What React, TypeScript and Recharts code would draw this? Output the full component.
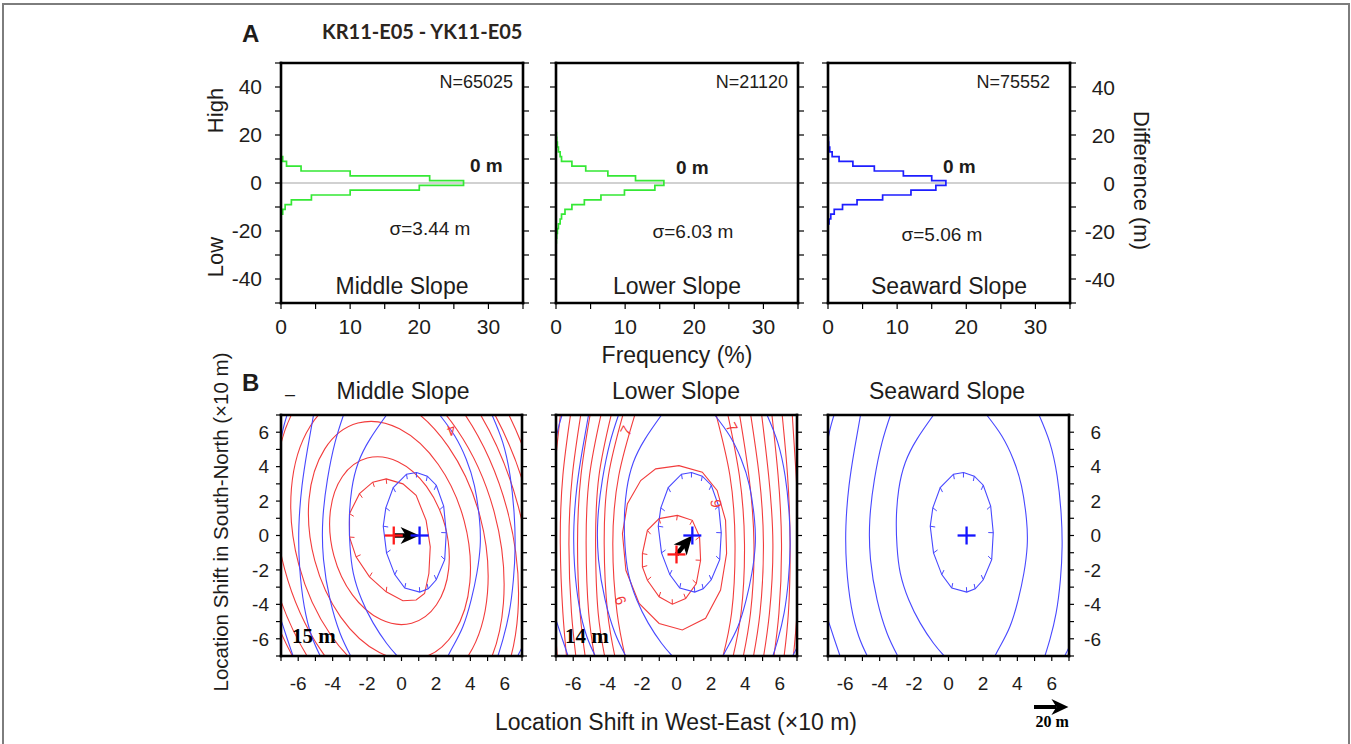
import React from 'react';
import { ComposedChart, Line, Scatter, XAxis, YAxis, ReferenceLine } from 'recharts';

type Pt = [number, number];

const SANS = '"Liberation Sans", Arial, Helvetica, sans-serif';
const SERIF = '"Liberation Serif", "Times New Roman", serif';
const INK = '#1e1c1a';
const RED = '#f23c3c';
const BLUE = '#4848ff';

/* ---------- A: depth-difference histograms, 2 m bins ---------- */
const binCenters = [-24, -22, -20, -18, -16, -14, -12, -10, -8, -6, -4, -2, 0, 2, 4, 6, 8, 10, 12, 14, 16, 18, 20];
const BIN_HALF = 1;
const freqMiddle = [0, 0, 0, 0, 0, 0, 0.25, 0.6, 1.5, 4.4, 10.0, 20.0, 26.4, 21.5, 10.0, 2.9, 0.8, 0.25, 0, 0, 0, 0, 0];
const freqLower = [0.05, 0.1, 0.2, 0.35, 0.6, 0.8, 1.3, 2.3, 4.1, 6.5, 9.9, 14.3, 15.6, 11.5, 7.5, 4.3, 2.3, 0.8, 0.6, 0.35, 0.2, 0.1, 0.05];
const freqSeaward = [0, 0, 0, 0, 0.15, 0.4, 0.9, 2.1, 4.2, 7.9, 12.0, 15.6, 17.05, 15.0, 10.9, 6.7, 3.6, 1.6, 0.6, 0.25, 0.1, 0.05, 0];
const histSeries = [freqMiddle, freqLower, freqSeaward];
const histColors = ['#35e835', '#35e835', '#1e1eff'];
const slopeNames = ['Middle Slope', 'Lower Slope', 'Seaward Slope'];
const sampleCounts = [65025, 21120, 75552];
const sigmaValues = [3.44, 6.03, 5.06];
const meanOffsets = [0, 0, 0];
const freqTicks = [0, 5, 10, 15, 20, 25, 30, 35];
const diffTicks = [-50, -40, -30, -20, -10, 0, 10, 20, 30, 40, 50];

/* ---------- B: misfit contours vs. location shift (units of 10 m) ---------- */
const shiftTicks = [-7, -6, -5, -4, -3, -2, -1, 0, 1, 2, 3, 4, 5, 6, 7];

// reference (blue) misfit surface, identical in every panel
const blueInner: Pt[] = [
  [0.87, 3.66], [1.5, 3.45], [2.02, 2.92], [2.45, 1.71], [2.6, 0.16], [2.51, -1.4], [2.02, -2.57], [1.55, -3.1],
  [1.06, -3.29], [0.19, -3.05], [-0.39, -2.27], [-0.87, -1.01], [-1.06, 0.54], [-0.91, 1.61], [-0.48, 2.78], [0.29, 3.56],
];
const blueOpen: Pt[][] = [
  [[-0.87, 7], [-1.83, 5.6], [-2.51, 4.24], [-2.89, 2.68], [-3.03, 0.93], [-2.99, -0.62], [-2.8, -2.18], [-2.31, -3.73], [-1.64, -5.09], [-0.87, -6.26], [-0.25, -7]],
  [[2.22, 7], [3.09, 5.79], [3.76, 4.43], [4.24, 2.88], [4.53, 0.93], [4.57, -0.62], [4.38, -2.18], [4.05, -3.73], [3.57, -5.29], [2.99, -6.45], [2.7, -7]],
  [[-3.37, 7], [-3.86, 5.41], [-4.3, 3.27], [-4.57, 0.93], [-4.53, -1.4], [-4.15, -3.73], [-3.57, -5.68], [-2.95, -7]],
  [[5.26, 7], [5.88, 5.41], [6.31, 3.46], [6.54, 1.32], [6.6, -0.62], [6.5, -2.57], [6.25, -4.51], [5.9, -6.0], [5.6, -7]],
  [[-5.11, 7], [-5.46, 5.02], [-5.78, 2.88], [-5.96, 0.54], [-5.92, -1.79], [-5.65, -4.12], [-5.21, -5.87], [-4.72, -7]],
  [[-6.65, 7], [-6.85, 6.3], [-7, 5.6]],
  [[-7, -4.9], [-6.65, -5.97], [-6.3, -7]],
  [[6.75, -7], [7, -6.5]],
];

// middle slope (red)
const redMiddleInner: Pt[] = [
  [-0.89, 3.29], [0.08, 3.0], [0.85, 2.33], [1.43, 0.88], [1.67, -0.66], [1.59, -2.21], [1.34, -3.37], [0.85, -3.75],
  [0.08, -3.79], [-0.89, -3.27], [-1.86, -2.4], [-2.64, -1.24], [-3.02, -0.09], [-3.02, 1.27], [-2.44, 2.43], [-1.67, 3.1],
];
const redMiddleRings: Pt[][] = [
  [[-2.05, 4.72], [-0.18, 4.5], [1.55, 3.0], [2.68, 0.61], [2.9, -2.03], [2.16, -4.2], [0.65, -5.32], [-1.22, -5.1], [-2.95, -3.6], [-4.08, -1.21], [-4.3, 1.43], [-3.56, 3.6]],
  [[-2.62, 6.85], [-0.09, 6.5], [2.27, 4.33], [3.84, 0.92], [4.19, -2.82], [3.23, -5.88], [1.22, -7.45], [-1.31, -7.1], [-3.67, -4.93], [-5.24, -1.52], [-5.59, 2.22], [-4.63, 5.28]],
  [[-3.08, 8.59], [-0.01, 8.13], [2.88, 5.42], [4.81, 1.18], [5.26, -3.47], [4.12, -7.26], [1.68, -9.19], [-1.39, -8.73], [-4.28, -6.02], [-6.21, -1.78], [-6.66, 2.87], [-5.52, 6.66]],
  [[-3.52, 10.23], [0.04, 9.67], [3.41, 6.45], [5.68, 1.41], [6.23, -4.09], [4.93, -8.56], [2.12, -10.83], [-1.44, -10.27], [-4.81, -7.05], [-7.08, -2.01], [-7.63, 3.49], [-6.33, 7.96]],
  [[-3.94, 11.78], [0.07, 11.12], [3.87, 7.4], [6.45, 1.62], [7.11, -4.68], [5.68, -9.8], [2.54, -12.38], [-1.47, -11.72], [-5.27, -8.0], [-7.85, -2.22], [-8.51, 4.08], [-7.08, 9.2]],
  [[-4.33, 13.22], [0.07, 12.46], [4.26, 8.28], [7.13, 1.8], [7.89, -5.25], [6.35, -10.96], [2.93, -13.82], [-1.47, -13.06], [-5.66, -8.88], [-8.53, -2.4], [-9.29, 4.65], [-7.75, 10.36]],
  [[-4.72, 14.67], [0.07, 13.81], [4.65, 9.16], [7.8, 1.98], [8.67, -5.81], [7.03, -12.13], [3.32, -15.27], [-1.47, -14.41], [-6.05, -9.76], [-9.2, -2.58], [-10.07, 5.21], [-8.43, 11.53]],
  [[-5.1, 16.12], [0.08, 15.15], [5.05, 10.04], [8.48, 2.16], [9.45, -6.38], [7.7, -13.29], [3.7, -16.72], [-1.48, -15.75], [-6.45, -10.64], [-9.88, -2.76], [-10.85, 5.78], [-9.1, 12.69]],
];

// lower slope (red)
const redLowerInner: Pt[] = [
  [0.05, 1.17], [0.92, 0.88], [1.34, -0.08], [1.4, -1.44], [1.15, -2.79], [0.53, -3.66], [-0.24, -3.99],
  [-1.01, -3.56], [-1.69, -2.6], [-1.98, -1.83], [-1.98, -1.05], [-1.69, 0.3], [-1.01, 0.98],
];
const redLowerRing: Pt[] = [
  [0.14, 4.06], [1.5, 3.68], [2.36, 2.62], [2.85, 0.88], [2.91, -1.04], [2.56, -3.17], [1.69, -4.81], [0.34, -5.49],
  [-1.01, -5.11], [-2.17, -3.95], [-2.94, -2.02], [-3.14, 0.11], [-2.85, 1.85], [-2.08, 3.19], [-1.21, 3.87],
];
const redLowerArcs: Pt[][] = [
  [[-2.3, 7.4], [-3.35, 3.5], [-3.7, -0.5], [-3.45, -4.5], [-2.9, -7.4]],
  [[-3.0, 7.4], [-3.95, 3.5], [-4.2, -0.5], [-4.0, -4.5], [-3.5, -7.4]],
  [[-3.7, 7.4], [-4.5, 3.5], [-4.7, -0.5], [-4.55, -4.5], [-4.1, -7.4]],
  [[-4.3, 7.4], [-5.05, 3.5], [-5.25, -0.5], [-5.1, -4.5], [-4.7, -7.4]],
  [[-4.95, 7.4], [-5.55, 3.5], [-5.75, -0.5], [-5.6, -4.5], [-5.25, -7.4]],
  [[-5.5, 7.4], [-6.05, 3.5], [-6.25, -0.5], [-6.1, -4.5], [-5.8, -7.4]],
  [[-6.1, 7.4], [-6.6, 3.5], [-6.75, -0.5], [-6.6, -4.5], [-6.35, -7.4]],
  [[-6.7, 7.4], [-7.1, 3.5], [-7.25, -0.5], [-7.1, -4.5], [-6.9, -7.4]],
  [[2.2, 7.4], [3.1, 3.5], [3.4, -0.5], [3.2, -4.5], [2.6, -7.4]],
  [[2.9, 7.4], [3.65, 3.5], [3.95, -0.5], [3.75, -4.5], [3.2, -7.4]],
  [[3.6, 7.4], [4.2, 3.5], [4.5, -0.5], [4.3, -4.5], [3.8, -7.4]],
  [[4.25, 7.4], [4.8, 3.5], [5.05, -0.5], [4.85, -4.5], [4.4, -7.4]],
  [[4.9, 7.4], [5.35, 3.5], [5.6, -0.5], [5.4, -4.5], [5.0, -7.4]],
  [[5.5, 7.4], [5.9, 3.5], [6.1, -0.5], [5.95, -4.5], [5.6, -7.4]],
  [[6.1, 7.4], [6.45, 3.5], [6.6, -0.5], [6.5, -4.5], [6.2, -7.4]],
  [[6.7, 7.4], [6.95, 3.5], [7.1, -0.5], [7.0, -4.5], [6.75, -7.4]],
];

// best-fit shifts (misfit minima)
const redMinimum: (Pt | null)[] = [[-0.45, 0], [0, -1.1], null];
const blueMinimum: Pt[] = [[1.05, 0], [0.92, 0], [1.05, 0]];
const contourLabels = [
  [{ x: 2.9, y: 6.1, text: '4', rot: 160 }],
  [
    { x: -2.94, y: 6.1, text: '7', rot: -62 },
    { x: 3.23, y: 6.3, text: '7', rot: 62 },
    { x: 2.27, y: 1.85, text: '6', rot: -95 },
    { x: -3.23, y: -3.76, text: '6', rot: 70 },
  ],
  [],
];
const SCALE_ARROW = 2; // 20 m

/* ---------- layout ---------- */
const PAD = { l: 70, r: 60, t: 30, b: 50 };
const COLS = [281, 556, 828];
const A_TOP = 63, A_W = 242, A_H = 240;
const B_TOP = 415, B_W = 241, B_H = 241;
const AXIS_LINE = { stroke: '#000', strokeWidth: 2.6, strokeLinecap: 'square' as const };
const TICK_LINE = { stroke: '#000', strokeWidth: 1.2 };

function histOutline(freq: number[]) {
  const nz = freq.map((f, i) => (f > 0 ? i : -1)).filter((i) => i >= 0);
  const first = nz[0];
  const last = nz[nz.length - 1];
  const pts = [{ x: 0, y: binCenters[first] - BIN_HALF }];
  for (let i = first; i <= last; i++) {
    pts.push({ x: freq[i], y: binCenters[i] - BIN_HALF });
    pts.push({ x: freq[i], y: binCenters[i] + BIN_HALF });
  }
  pts.push({ x: 0, y: binCenters[last] + BIN_HALF });
  return pts;
}

function toRows(pts: Pt[], tickWhen?: (p: Pt, c: Pt) => boolean) {
  const c: Pt = [pts.reduce((s, p) => s + p[0], 0) / pts.length, pts.reduce((s, p) => s + p[1], 0) / pts.length];
  return pts.map((p) => ({ x: p[0], y: p[1], tick: tickWhen ? tickWhen(p, c) : false, c0x: c[0], c0y: c[1] }));
}

const hachureDot = (color: string) => (props: any) => {
  const { cx, cy, payload, index } = props;
  if (!payload || !payload.tick || cx == null || cy == null) return <g key={`h${index}`} />;
  const dx = payload.c0x - payload.x;
  const dy = payload.c0y - payload.y;
  const n = Math.hypot(dx, dy) || 1;
  return <line key={`h${index}`} x1={cx} y1={cy} x2={cx + (dx / n) * 5} y2={cy - (dy / n) * 5} stroke={color} strokeWidth={1} />;
};

const crossShape = (color: string) => (props: any) => {
  const { cx, cy } = props;
  return (
    <g>
      <line x1={cx - 9} y1={cy} x2={cx + 9} y2={cy} stroke={color} strokeWidth={2.3} />
      <line x1={cx} y1={cy - 9} x2={cx} y2={cy + 9} stroke={color} strokeWidth={2.3} />
    </g>
  );
};

const arrowHead = (props: any) => {
  const { cx, cy, payload } = props;
  const n = Math.hypot(payload.dx, payload.dy) || 1;
  const ux = payload.dx / n;
  const uy = -payload.dy / n;
  const L = 19, Hw = 8.5;
  const px = -uy, py = ux;
  const bx = cx - ux * L, by = cy - uy * L;
  const nx = cx - ux * L * 0.72, ny = cy - uy * L * 0.72;
  return <polygon points={`${cx},${cy} ${bx + px * Hw},${by + py * Hw} ${nx},${ny} ${bx - px * Hw},${by - py * Hw}`} fill="#000" />;
};

const labelShape = (props: any) => {
  const { cx, cy, payload } = props;
  return (
    <text x={cx} y={cy} transform={`rotate(${payload.rot} ${cx} ${cy})`} textAnchor="middle" dominantBaseline="central"
      fontSize={15} fill={RED} fontFamily={SANS}>{payload.text}</text>
  );
};

function rightTick(extra: number, fontSize: number, fmt: (v: number) => string) {
  return (props: any) => (
    <text x={props.x + extra} y={props.y} dy="0.36em" textAnchor="end" fontSize={fontSize} fontFamily={SANS} fill={INK}>
      {fmt(props.payload.value)}
    </text>
  );
}

function HistPanel({ i }: { i: number }) {
  const W = A_W + PAD.l + PAD.r;
  const H = A_H + PAD.t + PAD.b;
  const leftFmt = (v: number) => (i === 0 && v % 20 === 0 && Math.abs(v) < 50 ? String(v) : '');
  const rightFmt = (v: number) => (i === 2 && v % 20 === 0 && Math.abs(v) < 50 ? String(v) : '');
  return (
    <div style={{ position: 'absolute', left: COLS[i] - PAD.l, top: A_TOP - PAD.t }}>
      <ComposedChart width={W} height={H} margin={{ top: 0, right: 0, bottom: 0, left: 0 }}>
        <ReferenceLine y={meanOffsets[i]} stroke="#a3a3a3" strokeWidth={1} />
        <Line data={histOutline(histSeries[i])} dataKey="y" type="linear" stroke={histColors[i]} strokeWidth={1.7}
          dot={false} activeDot={false} isAnimationActive={false} />
        <XAxis type="number" dataKey="x" domain={[0, 35]} ticks={freqTicks} interval={0} allowDataOverflow height={PAD.b}
          axisLine={AXIS_LINE} tickLine={TICK_LINE} tickSize={6} tickMargin={10}
          tick={{ fontSize: 21, fill: INK, fontFamily: SANS }} tickFormatter={(v: number) => (v % 10 === 0 ? String(v) : '')} />
        <XAxis xAxisId="top" orientation="top" type="number" domain={[0, 35]} ticks={freqTicks} interval={0} allowDataOverflow
          height={PAD.t} axisLine={AXIS_LINE} tickLine={TICK_LINE} tickSize={6} tick={{ fontSize: 10 }} tickFormatter={() => ''} />
        <YAxis type="number" dataKey="y" domain={[-50, 50]} ticks={diffTicks} interval={0} allowDataOverflow width={PAD.l}
          axisLine={AXIS_LINE} tickLine={TICK_LINE} tickSize={6} tickMargin={13}
          tick={{ fontSize: 21, fill: INK, fontFamily: SANS }} tickFormatter={leftFmt} />
        <YAxis yAxisId="right" orientation="right" type="number" domain={[-50, 50]} ticks={diffTicks} interval={0}
          allowDataOverflow width={PAD.r} axisLine={AXIS_LINE} tickLine={TICK_LINE} tickSize={6} tickMargin={0}
          tick={rightTick(39, 21, rightFmt)} />
      </ComposedChart>
    </div>
  );
}

function ContourPanel({ i }: { i: number }) {
  const W = B_W + PAD.l + PAD.r;
  const H = B_H + PAD.t + PAD.b;
  const evenFmt = (v: number) => (v % 2 === 0 && Math.abs(v) < 7 ? String(v) : '');
  const leftFmt = (v: number) => (i === 0 ? evenFmt(v) : '');
  const rightFmt = (v: number) => (i === 2 ? evenFmt(v) : '');
  const red = redMinimum[i];
  const blue = blueMinimum[i];
  const common = { dataKey: 'y', activeDot: false as const, isAnimationActive: false };

  const redLines: React.ReactNode[] = [];
  if (i === 0) {
    redLines.push(<Line key="ri" {...common} data={toRows(redMiddleInner, (p, c) => p[0] < c[0])} type="linearClosed"
      stroke={RED} strokeWidth={1.1} dot={hachureDot(RED)} />);
    redMiddleRings.forEach((r, k) => redLines.push(
      <Line key={`rr${k}`} {...common} data={toRows(r)} type="basisClosed" stroke={RED} strokeWidth={1.1} dot={false} />));
  } else if (i === 1) {
    redLines.push(<Line key="ri" {...common} data={toRows(redLowerInner, () => true)} type="linearClosed"
      stroke={RED} strokeWidth={1.1} dot={hachureDot(RED)} />);
    redLines.push(<Line key="r2" {...common} data={toRows(redLowerRing)} type="linearClosed" stroke={RED} strokeWidth={1.1} dot={false} />);
    redLowerArcs.forEach((r, k) => redLines.push(
      <Line key={`ra${k}`} {...common} data={toRows(r)} type="natural" stroke={RED} strokeWidth={1.1} dot={false} />));
  }

  const blueLines: React.ReactNode[] = [
    <Line key="bi" {...common} data={toRows(blueInner, () => true)} type="linearClosed" stroke={BLUE} strokeWidth={1.1}
      dot={hachureDot(BLUE)} />,
    ...blueOpen.map((b, k) => (
      <Line key={`bo${k}`} {...common} data={toRows(b)} type="natural" stroke={BLUE} strokeWidth={1.1} dot={false} />
    )),
  ];

  const shift: React.ReactNode[] = [];
  if (red) {
    const dx = blue[0] - red[0];
    const dy = blue[1] - red[1];
    const len = Math.hypot(dx, dy);
    const shaftEnd = { x: blue[0] - (dx / len) * 0.6, y: blue[1] - (dy / len) * 0.6 };
    shift.push(<Scatter key="rc" data={[{ x: red[0], y: red[1] }]} shape={crossShape('#ff1a1a')} isAnimationActive={false} />);
    shift.push(<Line key="sh" {...common} data={[{ x: red[0], y: red[1] }, shaftEnd]} type="linear" stroke="#000"
      strokeWidth={4.5} dot={false} />);
    shift.push(<Scatter key="ah" data={[{ x: blue[0], y: blue[1], dx, dy }]} shape={arrowHead} isAnimationActive={false} />);
  }

  return (
    <div style={{ position: 'absolute', left: COLS[i] - PAD.l, top: B_TOP - PAD.t }}>
      <ComposedChart width={W} height={H} margin={{ top: 0, right: 0, bottom: 0, left: 0 }}>
        {redLines}
        {blueLines}
        {shift}
        <Scatter data={[{ x: blue[0], y: blue[1] }]} shape={crossShape('#1414ff')} isAnimationActive={false} />
        {contourLabels[i].length > 0 && <Scatter data={contourLabels[i]} shape={labelShape} isAnimationActive={false} />}
        <XAxis type="number" dataKey="x" domain={[-7, 7]} ticks={shiftTicks} interval={0} allowDataOverflow height={PAD.b}
          axisLine={AXIS_LINE} tickLine={TICK_LINE} tickSize={5} tickMargin={16}
          tick={{ fontSize: 19, fill: INK, fontFamily: SANS }} tickFormatter={evenFmt} />
        <XAxis xAxisId="top" orientation="top" type="number" domain={[-7, 7]} ticks={shiftTicks} interval={0} allowDataOverflow
          height={PAD.t} axisLine={AXIS_LINE} tickLine={TICK_LINE} tickSize={5} tick={{ fontSize: 10 }} tickFormatter={() => ''} />
        <YAxis type="number" dataKey="y" domain={[-7, 7]} ticks={shiftTicks} interval={0} allowDataOverflow width={PAD.l}
          axisLine={AXIS_LINE} tickLine={TICK_LINE} tickSize={5} tickMargin={7}
          tick={{ fontSize: 19, fill: INK, fontFamily: SANS }} tickFormatter={leftFmt} />
        <YAxis yAxisId="right" orientation="right" type="number" domain={[-7, 7]} ticks={shiftTicks} interval={0}
          allowDataOverflow width={PAD.r} axisLine={AXIS_LINE} tickLine={TICK_LINE} tickSize={5} tickMargin={0}
          tick={rightTick(27, 19, rightFmt)} />
      </ComposedChart>
    </div>
  );
}

function Annotations() {
  const nRight = [513, 788, 1050];
  const zeroX = [470, 676, 943];
  const zeroY = [172, 174, 173];
  const sigX = [430, 693, 942];
  const sigY = [235, 238, 241];
  const slopeX = [402, 677, 949];
  const bTitleX = [403, 676, 947];
  const unit = B_W / 14;
  const arrowX0 = 1034;
  const arrowY = 707;
  const arrowLen = SCALE_ARROW * unit;
  const shiftLabels = [0, 1].map((i) => {
    const r = redMinimum[i] as Pt;
    const b = blueMinimum[i];
    return `${Math.round(Math.hypot(b[0] - r[0], b[1] - r[1]) * 10)} m`;
  });
  const shiftLabelX = [292, 565];
  return (
    <svg width={1351} height={744} style={{ position: 'absolute', left: 0, top: 0, pointerEvents: 'none' }}>
      <text x={242} y={42} fontFamily={SANS} fontWeight="bold" fontSize={24} fill={INK}>A</text>
      <text x={322} y={39} fontFamily="Lato, 'Open Sans', sans-serif" fontWeight="bold" fontSize={20} fill="#2b2520">
        KR11-E05 - YK11-E05
      </text>
      {[0, 1, 2].map((i) => (
        <g key={`at${i}`} fontFamily={SANS} fill={INK}>
          <text x={nRight[i]} y={88} fontSize={18} textAnchor="end">{`N=${sampleCounts[i]}`}</text>
          <text x={zeroX[i]} y={zeroY[i]} fontSize={19} fontWeight="bold">{`${meanOffsets[i]} m`}</text>
          <text x={sigX[i]} y={sigY[i]} fontSize={19} textAnchor="middle">{`σ=${sigmaValues[i].toFixed(2)} m`}</text>
          <text x={slopeX[i]} y={294} fontSize={23} textAnchor="middle">{slopeNames[i]}</text>
          <text x={bTitleX[i]} y={399} fontSize={23} textAnchor="middle">{slopeNames[i]}</text>
        </g>
      ))}
      <text x={677} y={363} fontFamily={SANS} fontSize={23} textAnchor="middle" fill={INK}>Frequency (%)</text>
      <text transform="translate(223,110.5) rotate(-90)" fontFamily={SANS} fontSize={22} textAnchor="middle" fill={INK}>High</text>
      <text transform="translate(223,257) rotate(-90)" fontFamily={SANS} fontSize={22} textAnchor="middle" fill={INK}>Low</text>
      <text transform="translate(1134,180.5) rotate(90)" fontFamily={SANS} fontSize={22} textAnchor="middle" fill={INK}>Difference (m)</text>

      <text x={242} y={391} fontFamily={SANS} fontWeight="bold" fontSize={24} fill={INK}>B</text>
      <text x={290} y={400} fontFamily={SANS} fontSize={18} textAnchor="middle" fill={INK}>–</text>
      <text x={676} y={730} fontFamily={SANS} fontSize={23} textAnchor="middle" fill={INK}>Location Shift in West-East (×10 m)</text>
      <text transform="translate(228,522) rotate(-90)" fontFamily={SANS} fontSize={20.5} textAnchor="middle" fill={INK}>
        Location Shift in South-North (×10 m)
      </text>
      {shiftLabels.map((s, i) => (
        <text key={`sl${i}`} x={shiftLabelX[i]} y={643} fontFamily={SERIF} fontWeight="bold" fontSize={21} fill="#000">{s}</text>
      ))}
      <line x1={arrowX0} y1={arrowY} x2={arrowX0 + arrowLen - 12} y2={arrowY} stroke="#000" strokeWidth={4} />
      <polygon
        points={`${arrowX0 + arrowLen},${arrowY} ${arrowX0 + arrowLen - 17},${arrowY - 8} ${arrowX0 + arrowLen - 12},${arrowY} ${arrowX0 + arrowLen - 17},${arrowY + 8}`}
        fill="#000" />
      <text x={arrowX0 + arrowLen / 2 + 1} y={727} fontFamily={SERIF} fontWeight="bold" fontSize={16} textAnchor="middle" fill="#000">
        {`${SCALE_ARROW * 10} m`}
      </text>
    </svg>
  );
}

export default function App() {
  return (
    <div style={{ position: 'absolute', left: 0, top: 0, width: 1351, height: 744, overflow: 'hidden', background: '#fff' }}>
      <div style={{ position: 'absolute', left: 2, top: 3, width: 1344, height: 800, border: '2px solid #7d7d7d' }} />
      {[0, 1, 2].map((i) => <HistPanel key={`a${i}`} i={i} />)}
      {[0, 1, 2].map((i) => <ContourPanel key={`b${i}`} i={i} />)}
      <Annotations />
    </div>
  );
}
